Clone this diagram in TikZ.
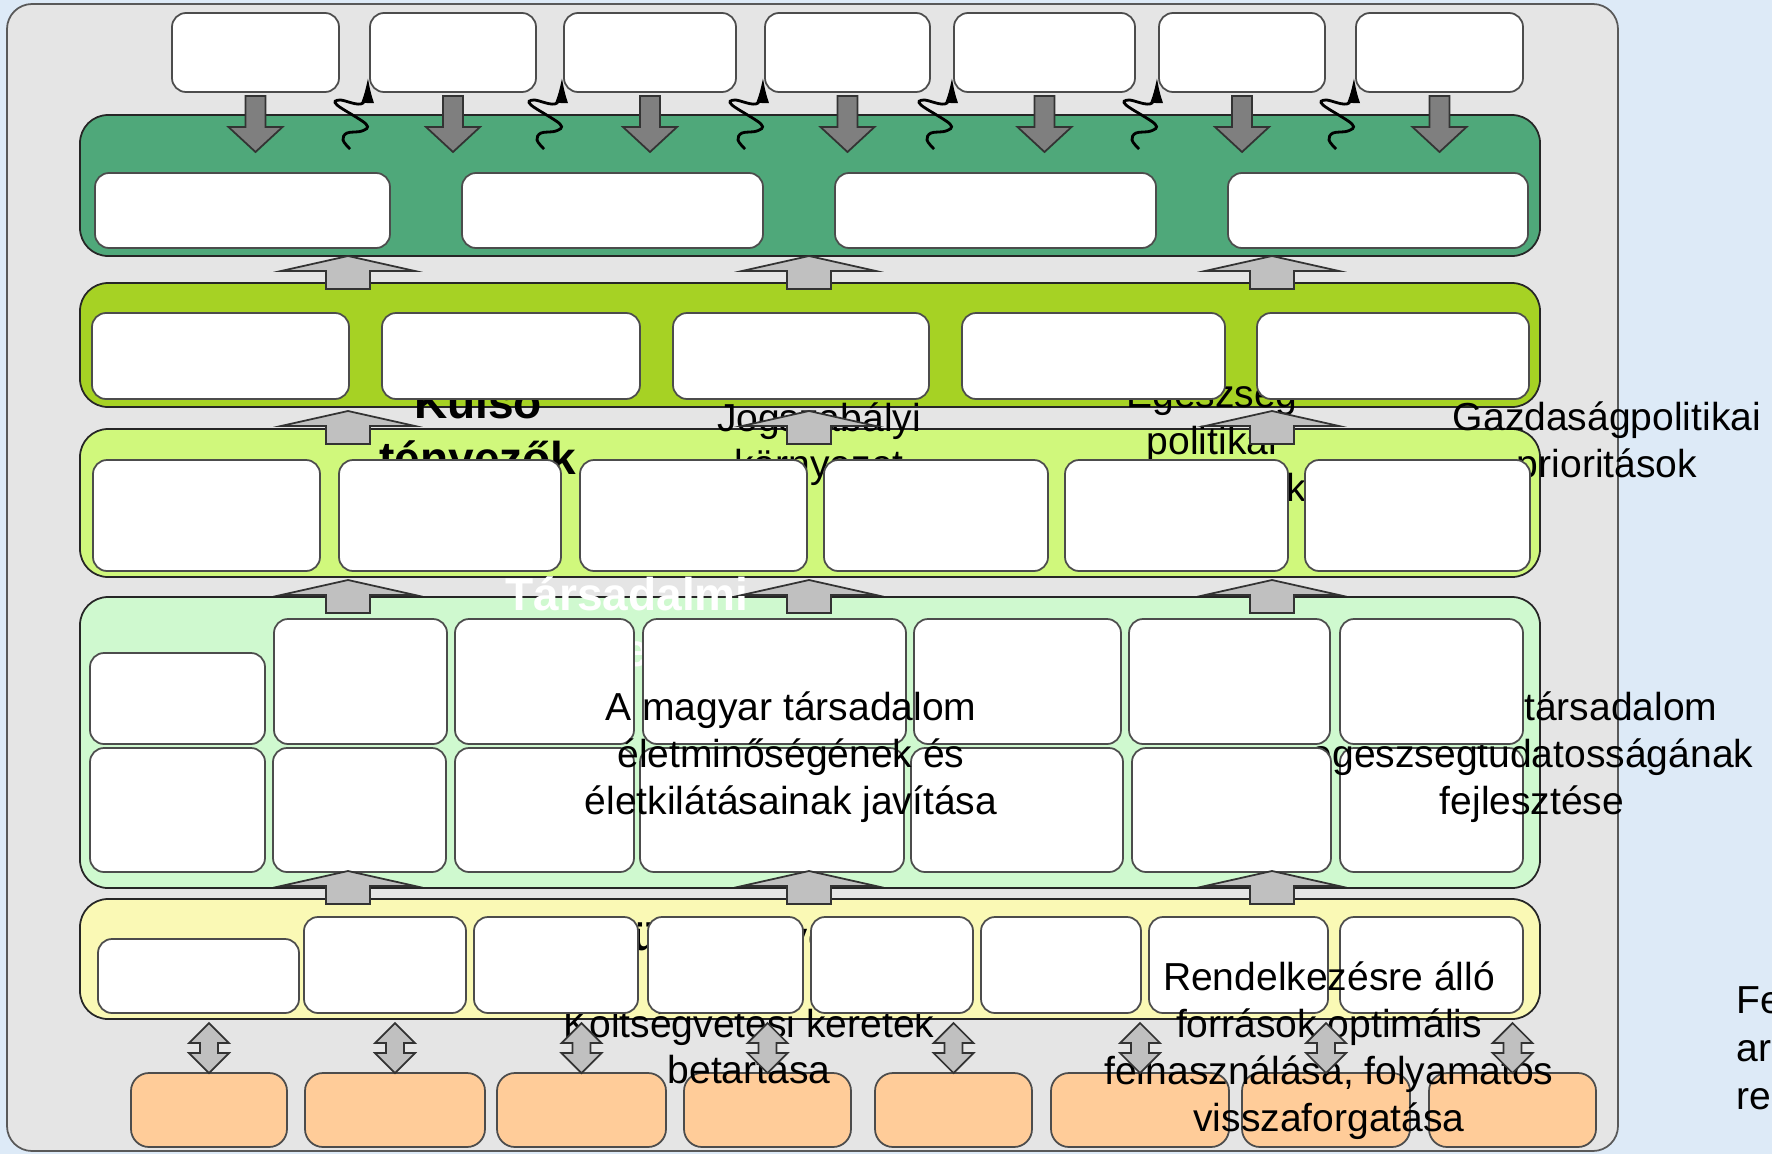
\documentclass[tikz,border=0pt]{standalone}
\usepackage{fontspec}
\setmainfont{Liberation Sans}
\usetikzlibrary{fit,arrows.meta}

\definecolor{bgblue}{HTML}{DDEAF7}
\definecolor{framegray}{HTML}{E5E5E5}
\definecolor{goalgreen}{HTML}{4FA87A}
\definecolor{limegreen}{HTML}{A6D224}
\definecolor{palelime}{HTML}{D0F87C}
\definecolor{mintgreen}{HTML}{CFF9CF}
\definecolor{paleyellow}{HTML}{FAF9B5}
\definecolor{boxorange}{HTML}{FFCC99}
\definecolor{arrowdark}{HTML}{7F7F7F}
\definecolor{arrowlight}{HTML}{C0C0C0}

\begin{document}
\begin{tikzpicture}[x=0.01cm, y=-0.01cm,
    wbox/.style={draw=black!70, line width=0.5pt, fill=white, rounded corners=0.14cm, inner sep=0pt, outer sep=0pt},
    obox/.style={wbox, fill=boxorange, rounded corners=0.18cm},
    lyr/.style={draw=black!85, line width=0.5pt, rounded corners=0.28cm, inner sep=0pt, outer sep=0pt},
    lbl/.style={font=\fontsize{11.1}{13.3}\selectfont, anchor=base, inner sep=0pt},
    lblb/.style={font=\fontsize{13.1}{15.7}\selectfont\bfseries, anchor=base, inner sep=0pt},
    darr/.style={draw=black!80, fill=arrowdark, line width=0.5pt},
    larr/.style={draw=black!80, fill=arrowlight, line width=0.5pt},
    squig/.style={line width=0.8pt, -{Latex[length=2.6mm,width=1.3mm]}}]

            % page
            \useasboundingbox (0,0) rectangle (1772,1154);
            \clip (0,0) rectangle (1772,1154);
            \fill[bgblue] (0,0) rectangle (1772,1154);
            \node[lyr, fill=framegray, draw=black!65, rounded corners=0.25cm, fit={(7,4) (1618,1151)}] (frame) {};

            % top boxes
            \foreach \n/\xa/\xb in {1/172/339, 2/370/536, 3/564/736, 4/765/930, 5/954/1135, 6/1159/1325, 7/1356/1523}
                \node[wbox, fit={(\xa,13) (\xb,92)}] (t\n) {};

            % bottom boxes
            \foreach \n/\xa/\xb in {1/131/287, 2/305/485, 3/497/666, 4/684/851, 5/875/1032, 6/1051/1229, 7/1242/1410, 8/1429/1596}
                \node[obox, fit={(\xa,1073) (\xb,1147)}] (o\n) {};

            % layers
            \node[lyr, fill=goalgreen, fit={(80,115) (1540,256)}] (goals) {};
            \node[lyr, fill=limegreen, fit={(80,283) (1540,407)}] (lay2) {};
            \node[lyr, fill=palelime, fit={(80,429) (1540,577)}] (lay3) {};
            \node[lyr, fill=mintgreen, fit={(80,597) (1540,888)}] (lay4) {};
            \node[lyr, fill=paleyellow, fit={(80,899) (1540,1019)}] (lay5) {};

            % labels under the boxes
            \foreach \t [count=\k] in {Külső, tényezők}
                \node[lblb] (ext\k) at (478, {418+56*(\k-1)}) {\t};
            \foreach \t [count=\k] in {Jogszabályi, környezet}
                \node[lbl] (jog\k) at (819, {431+46*(\k-1)}) {\t};
            \foreach \t [count=\k] in {Egészség, politikai, törekvések}
                \node[lbl] (eg\k) at (1212, {407+47*(\k-1)}) {\t};
            \foreach \t [count=\k] in {Gazdaságpolitikai, prioritások}
                \node[lbl] (gaz\k) at (1607, {430+47*(\k-1)}) {\t};
            \foreach \t [count=\k] in {Társadalmi, tényezők}
                \node[lblb, text=white] (soc\k) at (627, {610+56*(\k-1)}) {\t};
            \node[lblb, font=\fontsize{11.4}{13.7}\selectfont\bfseries] (fin) at (718,950) {Pénzügyi tényezők};
            \foreach \t [count=\k] in {Költségvetési keretek, betartása}
                \node[lbl] (kolt\k) at (749, {1037+46*(\k-1)}) {\t};

            % boxes of the layers
            \foreach \n/\xa/\xb in {1/95/390, 2/462/763, 3/835/1156, 4/1228/1528}
                \node[wbox, fit={(\xa,173) (\xb,248)}] (g\n) {};
            \foreach \n/\xa/\xb in {1/92/349, 2/382/640, 3/673/929, 4/962/1225, 5/1257/1529}
                \node[wbox, fit={(\xa,313) (\xb,399)}] (p\n) {};
            \foreach \n/\xa/\xb in {1/93/320, 2/339/561, 3/580/807, 4/824/1048, 5/1065/1288, 6/1305/1530}
                \node[wbox, fit={(\xa,460) (\xb,571)}] (c\n) {};
            \node[wbox, fit={(90,653) (265,744)}] (ra1) {};
            \foreach \n/\xa/\xb in {2/274/447, 3/455/634, 4/643/906, 5/914/1121, 6/1129/1330}
                \node[wbox, fit={(\xa,619) (\xb,744)}] (ra\n) {};
            \foreach \n/\xa/\xb in {1/90/265, 2/273/446, 3/455/634, 4/640/904, 5/911/1123, 7/1340/1523}
                \node[wbox, fit={(\xa,748) (\xb,872)}] (rb\n) {};
            \node[wbox, fit={(98,939) (299,1013)}] (d1) {};
            \foreach \n/\xa/\xb in {2/304/466, 3/474/638, 4/648/803, 5/811/973, 6/981/1141, 7/1149/1328, 8/1340/1523}
                \node[wbox, fit={(\xa,917) (\xb,1013)}] (d\n) {};

            % labels over the boxes
            \foreach \t [count=\k] in {A magyar társadalom, életminőségének és, életkilátásainak javítása}
                \node[lbl] (qol\k) at (791, {720+47*(\k-1)}) {\t};
            \foreach \t [count=\k] in {A magyar társadalom, egészségtudatosságának, fejlesztése}
                \node[lbl] (hc\k) at (1532, {720+47*(\k-1)}) {\t};
            \foreach \t [count=\k] in {Rendelkezésre álló, források optimális, {felhasználása, folyamatos}, visszaforgatása}
                \node[lbl] (res\k) at (1329, {990+47*(\k-1)}) {\t};
            \foreach \t [count=\k] in {Fe, ar, ren}
                \node[lbl, anchor=base west] (fe\k) at (1736, {1013+48*(\k-1)}) {\t};

            \node[wbox, fit={(1340,619) (1523,744)}] (ra7) {};
            \node[wbox, fit={(1132,748) (1331,872)}] (rb6) {};

            % arrows down from the top boxes
            \foreach \n in {1,...,7}
                \draw[darr, shift={(t\n.south)}] (-10,4) -- (10,4) -- (10,35) -- (27,35) -- (0,60) -- (-27,35) -- (-10,35) -- cycle;

            % wavy arrows up
            \foreach \n in {2,...,7}
                \draw[squig, shift={(t\n.south west)}] plot[smooth, tension=0.6] coordinates {(-20,57) (-27,48) (-23,41) (-8,39) (-4,32) (-33,13) (-30,8) (-7,11) (-2,-15)};

            % arrows up between the layers
            \foreach \cx in {348,809,1272}
                \foreach \ty in {256,411,580,871}
                    \draw[larr] (\cx,\ty) -- ++(67,15) -- ++(-45,0) -- ++(0,18) -- ++(-44,0) -- ++(0,-18) -- ++(-45,0) -- cycle;

            % double arrows to the bottom boxes
            \foreach \n in {1,...,8}
                \draw[larr, shift={(o\n.north)}] (0,0) -- (20,-20) -- (9,-20) -- (9,-30) -- (20,-30) -- (0,-50) -- (-20,-30) -- (-9,-30) -- (-9,-20) -- (-20,-20) -- cycle;
        \end{tikzpicture}
\end{document}
